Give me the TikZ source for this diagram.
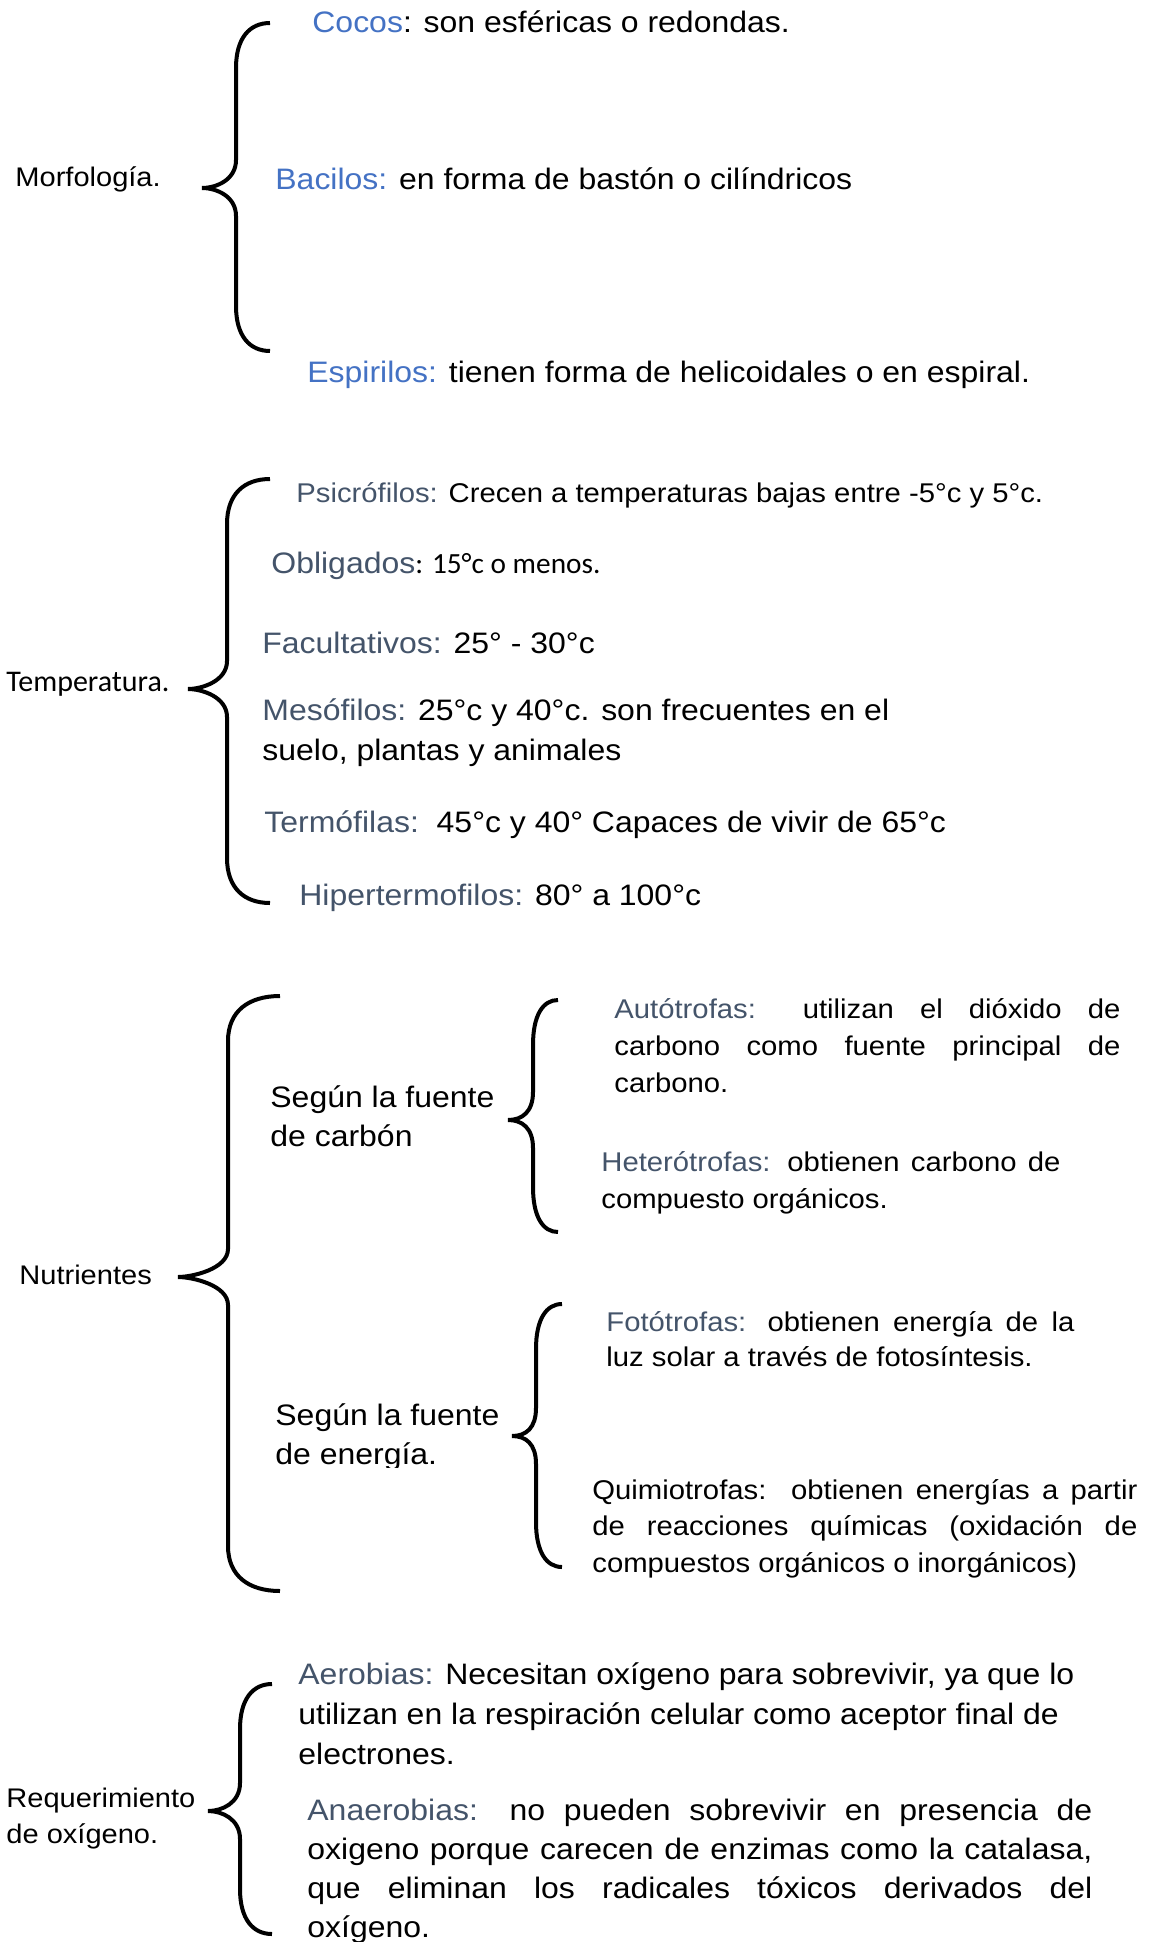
\documentclass[tikz,border=0pt]{standalone}
\usepackage{fontspec}
\setmainfont{Liberation Sans}[FakeStretch=1.08]
\newfontfamily\carlitofont{Carlito}
\definecolor{cblue}{HTML}{4472C4}
\definecolor{cslate}{HTML}{44546A}
\tikzset{
  txt/.style={inner sep=0pt, anchor=base west, align=left, font=\fontsize{14.8}{19.8}\selectfont},
  smalltxt/.style={txt, font=\fontsize{13.55}{18.5}\selectfont},
  lbl/.style={txt, font=\fontsize{13.45}{18}\selectfont},
  bracestyle/.style={line width=2pt}
}
\newcommand\curlybr[6]{% end x, line x, tip x, top y, mid y, bottom y
  \draw[bracestyle] (#1,#4) .. controls ({#2+0.4*(#1-#2)},#4) and (#2,{#4+15}) .. (#2,{#4+45})
    -- (#2,{#5-28}) .. controls (#2,{#5-8}) and ({#3+14},#5) .. (#3,#5)
    .. controls ({#3+14},#5) and (#2,{#5+8}) .. (#2,{#5+28})
    -- (#2,{#6-45}) .. controls (#2,{#6-15}) and ({#2+0.4*(#1-#2)},#6) .. (#1,#6);}
\begin{document}
\begin{tikzpicture}[x=0.5pt,y=-0.5pt]
\useasboundingbox[fill=white] (0,0) rectangle (1154,1942);

% Morfologia
\curlybr{270}{236}{202}{23}{188}{351}
\node[lbl] (morf) at (15,187) {Morfología.};
\node[txt] (cocos) at (312,33) {\textcolor{cblue}{Cocos}: son esféricas o redondas.};
\node[txt] (bacilos) at (275,190) {\textcolor{cblue}{Bacilos:} en forma de bastón o cilíndricos};
\node[txt] (espirilos) at (307,382) {\textcolor{cblue}{Espirilos:} tienen forma de helicoidales o en espiral.};

% Temperatura
\curlybr{270}{227}{188}{479}{689}{903}
\node[txt, font=\carlitofont\fontsize{15}{18}\selectfont] (temp) at (6,691) {Temperatura.};
\node[smalltxt] (psi) at (296,502) {\textcolor{cslate}{Psicrófilos:} Crecen a temperaturas bajas entre -5°c y 5°c.};
\node[txt] (obl) at (271,573) {\textcolor{cslate}{Obligados}{\carlitofont\fontsize{14.65}{18}\selectfont: 15°c o menos.}};
\node[txt] (fac) at (262,653) {\textcolor{cslate}{Facultativos:} 25° - 30°c};
\node[txt, font=\fontsize{14.8}{20}\selectfont] (meso) at (262,760) {\textcolor{cslate}{Mesófilos:} 25°c y 40°c. son frecuentes en el\\suelo, plantas y animales};
\node[txt] (termo) at (264,832) {\textcolor{cslate}{Termófilas:}\ \ 45°c y 40° Capaces de vivir de 65°c};
\node[txt] (hiper) at (299,905) {\textcolor{cslate}{Hipertermofilos:} 80° a 100°c};

% Nutrientes
\curlybr{280}{228}{178}{996}{1277}{1591}
\curlybr{558}{533}{508}{1000}{1120}{1232}
\curlybr{562}{536}{512}{1304}{1436}{1567}
\node[lbl] (nut) at (19,1284) {Nutrientes};
\node[txt, font=\fontsize{14.8}{19.5}\selectfont] (carb) at (270,1146) {Según la fuente\\de carbón};
\begin{scope}
  \clip (255,1385) rectangle (540,1467);
  \node[txt, font=\fontsize{14.8}{19.5}\selectfont] (ener) at (275,1464) {Según la fuente\\de energía.};
\end{scope}
\node[smalltxt] (auto) at (614,1092) {\makebox[253pt][s]{\textcolor{cslate}{Autótrofas:} utilizan el dióxido de}\\\makebox[253pt][s]{carbono como fuente principal de}\\carbono.};
\node[smalltxt] (hetero) at (601,1208) {\makebox[229.5pt][s]{\textcolor{cslate}{Heterótrofas:} obtienen carbono de}\\compuesto orgánicos.};
\node[smalltxt, font=\fontsize{13.55}{17.5}\selectfont] (foto) at (606,1366) {\makebox[234pt][s]{\textcolor{cslate}{Fotótrofas:} obtienen energía de la}\\luz solar a través de fotosíntesis.};
\node[smalltxt, font=\fontsize{13.55}{18.25}\selectfont] (quimio) at (592,1572) {\makebox[272.5pt][s]{Quimiotrofas:\ \ obtienen energías a partir}\\\makebox[272.5pt][s]{de reacciones químicas (oxidación de}\\compuestos orgánicos o inorgánicos)};

% Requerimiento de oxigeno
\curlybr{272}{240}{208}{1684}{1811}{1934}
\node[lbl] (req) at (6,1843) {Requerimiento\\de oxígeno.};
\node[txt] (aer) at (298,1764) {\textcolor{cslate}{Aerobias:} Necesitan oxígeno para sobrevivir, ya que lo\\utilizan en la respiración celular como aceptor final de\\electrones.};
\node[txt, font=\fontsize{14.8}{19.5}\selectfont] (anaer) at (307,1937) {\makebox[392.5pt][s]{\textcolor{cslate}{Anaerobias:} no pueden sobrevivir en presencia de}\\\makebox[392.5pt][s]{oxigeno porque carecen de enzimas como la catalasa,}\\\makebox[392.5pt][s]{que eliminan los radicales tóxicos derivados del}\\oxígeno.};
\end{tikzpicture}
\end{document}
